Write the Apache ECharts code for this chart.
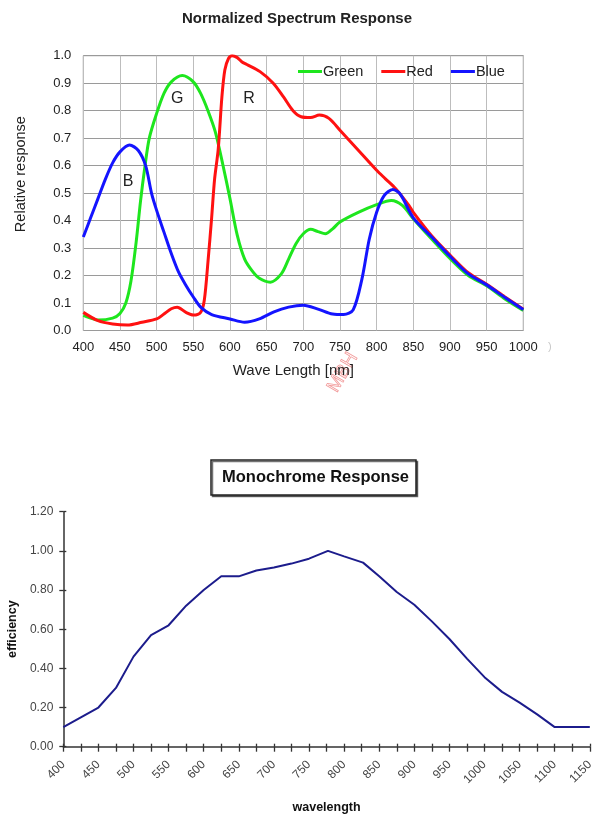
<!DOCTYPE html>
<html>
<head>
<meta charset="utf-8">
<script src="https://cdn.jsdelivr.net/npm/echarts@6/dist/echarts.min.js"></script>
<style>
html,body{margin:0;padding:0;background:#fff;}
#c{width:594px;height:814px;}
</style>
</head>
<body>
<div id="c"></div>
<script>
// ---------- Top chart: Normalized Spectrum Response ----------
const topTitle = 'Normalized Spectrum Response';
const seriesNames = ['Green', 'Red', 'Blue'];
const topXTicks = [400, 450, 500, 550, 600, 650, 700, 750, 800, 850, 900, 950, 1000];

const greenWave = [400,410,420,440,450,458,465,472,478,484,490,500,510,520,535,550,560,570,580,590,600,610,620,630,640,655,670,680,690,700,710,720,730,740,750,775,800,820,835,850,875,900,925,950,975,1000];
const greenVal  = [0.055,0.045,0.038,0.045,0.062,0.10,0.18,0.32,0.47,0.596,0.70,0.79,0.863,0.905,0.928,0.905,0.863,0.80,0.723,0.607,0.48,0.346,0.26,0.218,0.19,0.176,0.206,0.26,0.316,0.352,0.368,0.36,0.352,0.37,0.395,0.43,0.458,0.473,0.455,0.407,0.333,0.262,0.20,0.163,0.115,0.073];

const redWave = [400,420,440,460,480,500,510,520,528,540,550,560,565,570,575,579,584,589,593,598,603,610,616,623,641,659,673,686,697,710,722,735,750,775,800,812,826,844,850,875,900,925,950,975,1000];
const redVal  = [0.066,0.036,0.024,0.02,0.03,0.042,0.06,0.079,0.085,0.066,0.056,0.066,0.11,0.25,0.41,0.55,0.66,0.85,0.948,0.99,1.0,0.993,0.978,0.968,0.942,0.90,0.85,0.80,0.778,0.775,0.784,0.772,0.729,0.656,0.583,0.552,0.516,0.455,0.43,0.345,0.275,0.21,0.168,0.122,0.077];

const blueWave = [400,410,420,430,440,450,463,475,485,493,500,510,520,530,540,550,560,575,600,620,640,660,680,700,720,740,755,768,780,790,800,810,822,832,850,875,900,925,950,975,1000];
const blueVal  = [0.34,0.41,0.48,0.55,0.61,0.65,0.675,0.655,0.60,0.50,0.437,0.358,0.28,0.212,0.164,0.122,0.085,0.058,0.042,0.030,0.042,0.068,0.085,0.092,0.078,0.060,0.058,0.075,0.188,0.333,0.43,0.49,0.513,0.497,0.41,0.34,0.27,0.206,0.166,0.12,0.076];

// Curve letters (annotations) : letter, wavelength, value
const annotLetters = ['G', 'R', 'B'];
const annotWave = [528, 626, 461];
const annotVal = [0.844, 0.844, 0.541];

// ---------- Bottom chart: Monochrome Response ----------
const monoTitle = 'Monochrome Response';
const monoWave = [400,425,450,475,500,525,550,575,600,625,650,675,700,725,750,777,800,827,850,875,900,925,950,975,1000,1025,1050,1075,1100,1125,1150];
const monoEff  = [0.10,0.15,0.20,0.30,0.46,0.57,0.62,0.72,0.80,0.87,0.87,0.90,0.915,0.935,0.96,1.00,0.972,0.94,0.87,0.79,0.725,0.64,0.55,0.45,0.355,0.28,0.225,0.165,0.10,0.10,0.10];

const pairs = (xs, ys) => xs.map((x, i) => [x, ys[i]]);

const chart = echarts.init(document.getElementById('c'), null, {renderer: 'canvas'});
const FONT = 'Liberation Sans, Arial, sans-serif';

function letterMark(idx) {
  return {
    symbol: 'circle', symbolSize: 0, silent: true,
    data: [{coord: [annotWave[idx], annotVal[idx]], value: annotLetters[idx]}],
    label: {show: true, position: 'inside', formatter: annotLetters[idx], color: '#222', fontSize: 16, fontFamily: FONT}
  };
}

const lineBase = {type: 'line', xAxisIndex: 0, yAxisIndex: 0, showSymbol: false, symbol: 'none', smooth: 0.3, z: 3};

const option = {
  animation: false,
  backgroundColor: '#fff',
  textStyle: {fontFamily: FONT},
  title: [
    {text: topTitle, left: 'center', top: 10, padding: [0, 0, 0, 8],
     textStyle: {fontSize: 15, fontWeight: 'bold', color: '#222', fontFamily: FONT, lineHeight: 18}},
    {text: monoTitle, left: 211, top: 460, padding: [8, 7, 8, 11], borderWidth: 1.5, borderColor: '#222',
     shadowColor: 'rgba(0,0,0,0.55)', shadowOffsetX: 1.5, shadowOffsetY: 1.5, shadowBlur: 0, backgroundColor: '#fff',
     textStyle: {fontSize: 16.5, fontWeight: 'bold', color: '#111', fontFamily: FONT, lineHeight: 19}}
  ],
  legend: {
    data: seriesNames, left: 298, top: 64, padding: 0, itemWidth: 24, itemHeight: 3, itemGap: 18, icon: 'rect',
    textStyle: {fontSize: 14.5, color: '#222', fontFamily: FONT, padding: [0, 0, 0, -4]},
    backgroundColor: 'rgba(255,255,255,0)'
  },
  grid: [
    {left: 83.3, top: 55.7, right: 70.7, bottom: 483.5, show: true, borderColor: '#8a8a8a', borderWidth: 1,
     backgroundColor: 'transparent', containLabel: false, outerBoundsMode: 'none'},
    {left: 63.3, top: 511.7, right: 4.2, bottom: 67.3, containLabel: false, outerBoundsMode: 'none'}
  ],
  xAxis: [
    {type: 'value', gridIndex: 0, min: topXTicks[0], max: topXTicks[topXTicks.length - 1], interval: 50,
     name: 'Wave Length [nm]', nameLocation: 'middle', nameGap: 33,
     nameTextStyle: {fontSize: 15, color: '#222', fontFamily: FONT, padding: [0, 20, 0, 0]},
     axisLine: {show: false}, axisTick: {show: false},
     axisLabel: {fontSize: 13, color: '#222', margin: 10, fontFamily: FONT, formatter: v => String(v)},
     splitLine: {show: true, lineStyle: {color: '#bdbdbd', width: 1}}},
    {type: 'value', gridIndex: 1, position: 'bottom', min: 400, max: 1150, interval: 50,
     name: 'wavelength', nameLocation: 'middle', nameGap: 54,
     nameTextStyle: {fontSize: 12.5, fontWeight: 'bold', color: '#111', fontFamily: FONT},
     axisLine: {show: true, lineStyle: {color: '#333', width: 1.5}},
     axisTick: {show: true, length: 5, lineStyle: {color: '#333', width: 1.3}},
     minorTick: {show: true, splitNumber: 2, length: 5, lineStyle: {color: '#333', width: 1.3}},
     axisLabel: {rotate: 45, fontSize: 12, color: '#444', margin: 16, fontFamily: FONT, formatter: v => String(v)},
     splitLine: {show: false}},
    {type: 'value', gridIndex: 1, position: 'bottom', min: 400, max: 1150, interval: 50,
     axisLine: {show: false},
     axisTick: {show: true, inside: true, length: 3, lineStyle: {color: '#333', width: 1.3}},
     minorTick: {show: true, splitNumber: 2, length: 3, lineStyle: {color: '#333', width: 1.3}},
     axisLabel: {show: false}, splitLine: {show: false}}
  ],
  yAxis: [
    {type: 'value', gridIndex: 0, min: 0, max: 1, interval: 0.1,
     name: 'Relative response', nameLocation: 'middle', nameGap: 55,
     nameTextStyle: {fontSize: 14.5, color: '#222', fontFamily: FONT, padding: [0, 0, 0, 38]},
     axisLine: {show: false}, axisTick: {show: false},
     axisLabel: {fontSize: 13, color: '#222', margin: 12, fontFamily: FONT, formatter: v => v.toFixed(1)},
     splitLine: {show: true, lineStyle: {color: '#9a9a9a', width: 1}}},
    {type: 'value', gridIndex: 1, position: 'left', min: 0, max: 1.2, interval: 0.2,
     name: 'efficiency', nameLocation: 'middle', nameGap: 42,
     nameTextStyle: {fontSize: 12.5, fontWeight: 'bold', color: '#111', fontFamily: FONT},
     axisLine: {show: true, lineStyle: {color: '#333', width: 1.5}},
     axisTick: {show: true, length: 4, lineStyle: {color: '#333', width: 1.3}},
     axisLabel: {fontSize: 12, color: '#444', margin: 10, fontFamily: FONT, formatter: v => v.toFixed(2)},
     splitLine: {show: false}},
    {type: 'value', gridIndex: 1, position: 'left', min: 0, max: 1.2, interval: 0.2,
     axisLine: {show: false},
     axisTick: {show: true, inside: true, length: 3, lineStyle: {color: '#333', width: 1.3}},
     axisLabel: {show: false}, splitLine: {show: false}}
  ],
  series: [
    Object.assign({}, lineBase, {name: 'Green', data: pairs(greenWave, greenVal), itemStyle: {color: '#1ee61e'},
      lineStyle: {color: '#1ee61e', width: 3}, markPoint: letterMark(0)}),
    Object.assign({}, lineBase, {name: 'Red', data: pairs(redWave, redVal), itemStyle: {color: '#ff1111'},
      lineStyle: {color: '#ff1111', width: 3}, markPoint: letterMark(1)}),
    Object.assign({}, lineBase, {name: 'Blue', data: pairs(blueWave, blueVal), itemStyle: {color: '#1414ff'},
      lineStyle: {color: '#1414ff', width: 3}, markPoint: letterMark(2)}),
    {type: 'line', name: 'Monochrome', xAxisIndex: 1, yAxisIndex: 1, data: pairs(monoWave, monoEff),
      showSymbol: false, symbol: 'none', smooth: false, lineStyle: {color: '#1c1c8c', width: 2}, itemStyle: {color: '#1c1c8c'}}
  ],
  graphic: [
    {type: 'text', left: 548, top: 341, silent: true,
     style: {text: ')', fontSize: 11, fill: '#c8c8c8', fontFamily: FONT}},
    {type: 'text', x: 324, y: 386, rotation: Math.PI / 3, silent: true,
     style: {text: 'MBH', fontSize: 19, fill: 'rgba(255,255,255,0)', stroke: '#f29a9a', lineWidth: 0.8, fontFamily: FONT}}
  ]
};
chart.setOption(option);
</script>
</body>
</html>
